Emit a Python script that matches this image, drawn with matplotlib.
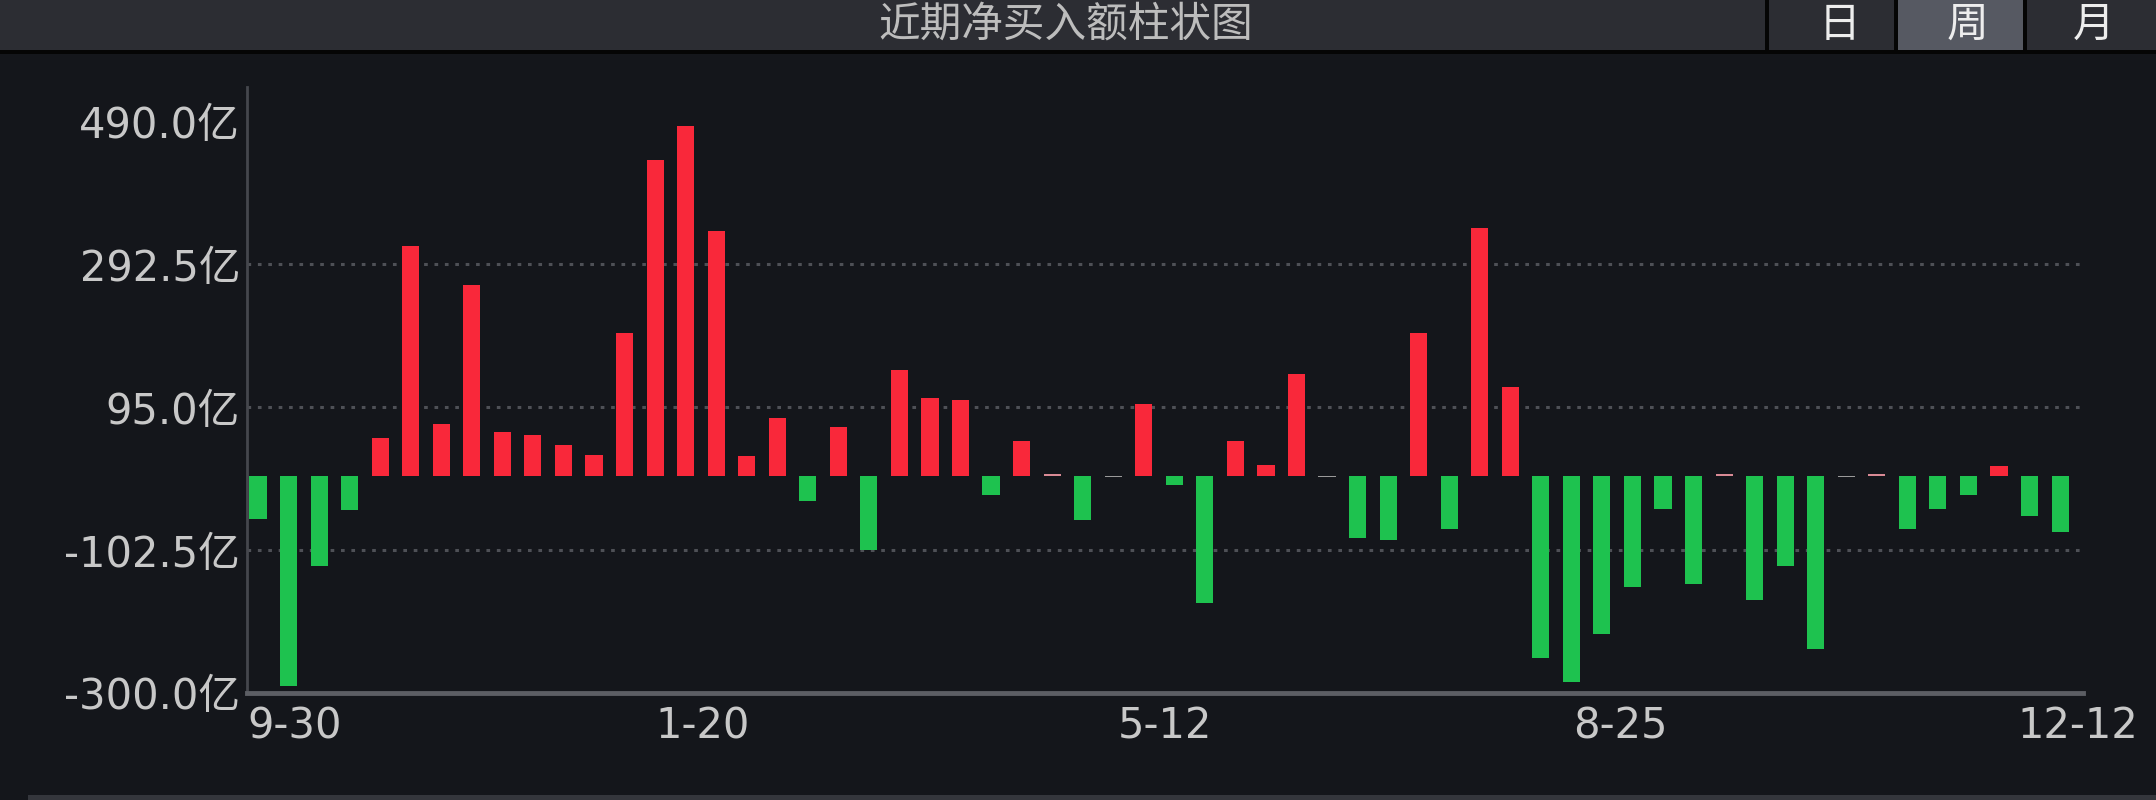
import matplotlib
matplotlib.use("Agg")
import matplotlib.pyplot as plt
from matplotlib.patches import Rectangle
import numpy as np

# ---------------- data ----------------
net_buy = [-60, -290, -125, -47, 52, 318, 71, 263, 61, 57,
           43, 29, 197, 436, 483, 338, 28, 80, -35, 67,
           -102, 146, 108, 105, -27, 48, 3, -61, -2, 99,
           -13, -176, 48, 15, 140, -2, -86, -88, 197, -74,
           342, 122, -252, -285, -218, -153, -46, -149, 3, -172,
           -125, -239, -2, 3, -74, -46, -27, 14, -55, -78]
y_ticks = [-300.0, -102.5, 95.0, 292.5, 490.0]
x_labels = ["9-30", "1-20", "5-12", "8-25", "12-12"]
x_label_pos = [0.0, 0.248, 0.5, 0.748, 1.030]   # axes fraction
x_label_ha = ["left", "center", "center", "center", "right"]
title = "近期净买入额柱状图"
tabs = ["日", "周", "月"]
selected_tab = "周"

# ---------------- style ----------------
W, H = 2156, 800
BG = "#14161b"
HEADER = "#2c2d33"
RED = "#f9283a"
GREEN = "#1ec24f"
PINK = "#d98a95"
GRAY = "#9a9a9a"
TXT = "#c8c8c8"
CJK = ["DejaVu Sans", "Noto Sans CJK SC"]

plt.rcParams["font.family"] = CJK

fig = plt.figure(figsize=(W / 100, H / 100), dpi=100, facecolor=BG)

def fx(px):
    return px / W

def fy(py):  # py measured from top
    return 1 - py / H

# header bar
fig.patches.append(Rectangle((0, fy(50)), 1, 50 / H, transform=fig.transFigure,
                             facecolor=HEADER, edgecolor="none", zorder=0))
fig.patches.append(Rectangle((0, fy(54)), 1, 4 / H, transform=fig.transFigure,
                             facecolor="#050505", edgecolor="none", zorder=1))
# tabs
tab_edges = [1767, 1896, 2025, 2156]
tab_centers = [1839, 1967, 2094]
for i, t in enumerate(tabs):
    if t == selected_tab:
        fig.patches.append(Rectangle((fx(tab_edges[i] + 2), fy(50)),
                                     fx(tab_edges[i + 1] - tab_edges[i] - 3), 50 / H,
                                     transform=fig.transFigure, facecolor="#565962",
                                     edgecolor="none", zorder=1))
    fig.text(fx(tab_centers[i]), fy(25), t, ha="center", va="center",
             fontsize=30, color="#ededed", family=["Noto Sans CJK SC"], zorder=3)
for xe in tab_edges[:3]:
    fig.patches.append(Rectangle((fx(xe - 2), fy(50)), fx(4), 50 / H,
                                 transform=fig.transFigure, facecolor="#050505",
                                 edgecolor="none", zorder=2))
fig.text(fx(1066), fy(25), title, ha="center", va="center", fontsize=30,
         color="#bdbdbd", family=["Noto Sans CJK SC"], zorder=3)

# bottom frame line
fig.patches.append(Rectangle((fx(28), 0), 1, 5 / H, transform=fig.transFigure,
                             facecolor="#34363c", edgecolor="none", zorder=1))

# ---------------- axes ----------------
ax = fig.add_axes([fx(247), 1 - 693 / H, fx(2083 - 247), (693 - 87) / H])
ax.set_facecolor(BG)

x = np.arange(len(net_buy))
colors = []
for v in net_buy:
    if v > 3.5:
        colors.append(RED)
    elif v < -3.5:
        colors.append(GREEN)
    elif v > 0:
        colors.append(PINK)
    else:
        colors.append(GRAY)
ax.bar(x, net_buy, width=0.56, color=colors, edgecolor="none", zorder=3)

ax.set_xlim(-0.36, len(net_buy) - 0.25)
ax.set_ylim(-300, 537)

for yv in y_ticks[1:4]:
    ax.axhline(yv, color="#4e5056", linestyle=(0, (1.2, 2.2)), linewidth=2.2, zorder=1)

ax.set_yticks(y_ticks)
ax.set_yticklabels([f"{v:.1f}亿" for v in y_ticks], fontsize=30, color=TXT)
ax.tick_params(axis="y", length=0, pad=5)
ax.set_xticks([])

for s in ["top", "right"]:
    ax.spines[s].set_visible(False)
ax.spines["left"].set_color("#45474d")
ax.spines["left"].set_linewidth(2)
ax.spines["bottom"].set_color("#5c5e64")
ax.spines["bottom"].set_linewidth(3.5)

for lab, pos, ha in zip(x_labels, x_label_pos, x_label_ha):
    ax.text(pos, -0.055, lab, transform=ax.transAxes, ha=ha, va="center",
            fontsize=30, color=TXT, clip_on=False)

fig.savefig("out.png", dpi=100, facecolor=BG)
